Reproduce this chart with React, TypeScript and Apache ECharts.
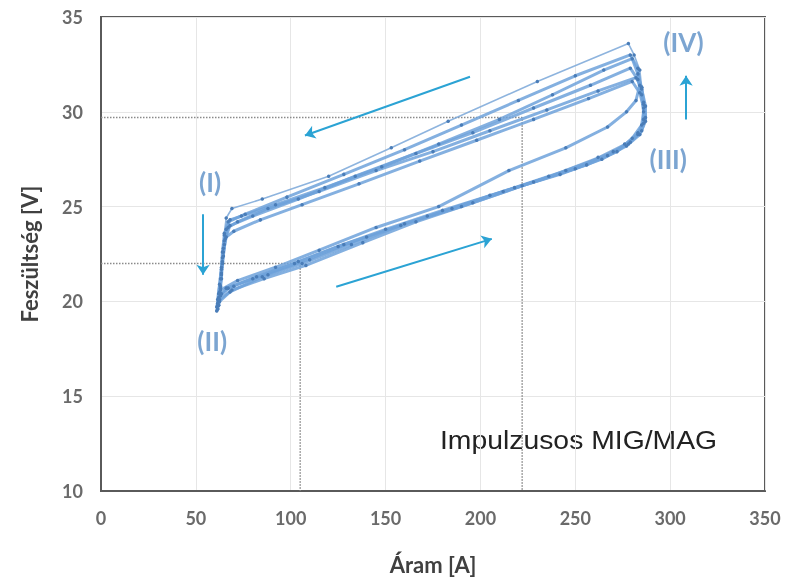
import React, { useEffect, useRef } from "react";
import * as echarts from "echarts";

// Arc current [A] / voltage [V] samples, several pulse cycles
const cycle1: number[][] = [[62.0,19.8],[63.5,20.4],[70,20.8],[88,21.4],[110,22.2],[140,23.4],[172,24.5],[205,25.6],[236,26.6],[262,27.6],[276,28.3],[283,28.9],[286,29.6],[286,30.4],[285,31.3],[284,32.2],[281,33.0],[278,33.6],[230,31.6],[183,29.5],[153,28.1],[120,26.6],[85,25.4],[69,24.9],[66,24.4],[65,23.6],[64.5,22.8],[64,22.0],[63.5,21.2],[63,20.4],[62,19.8]];
const cycle2: number[][] = [[61.5,19.6],[62.5,20.0],[68,20.5],[85,21.3],[106,22.0],[132,23.0],[160,24.1],[190,25.0],[222,26.1],[250,27.0],[270,27.9],[279,28.4],[285,29.0],[287,29.7],[286,30.5],[285,31.3],[282,31.8],[262,31.1],[235,30.1],[205,29.0],[175,27.9],[145,26.9],[115,25.8],[88,24.9],[72,24.2],[67,23.9],[65,23.2],[64,22.3],[63.5,21.5],[63,20.7],[62,20.0],[61.5,19.6]];
const cycle3: number[][] = [[61,19.7],[62,20.2],[66,20.7],[80,21.2],[104,22.1],[128,23.0],[158,24.0],[185,24.9],[218,26.0],[245,26.9],[267,27.7],[278,28.3],[283,28.8],[286,29.4],[286,30.2],[284,31.0],[280,31.6],[257,30.7],[228,29.6],[198,28.5],[168,27.4],[136,26.2],[106,25.1],[84,24.3],[70,23.7],[66,23.4],[64.5,22.6],[63.5,21.8],[62.5,20.9],[61.5,20.1]];
const cycle4: number[][] = [[62,20.0],[63,20.6],[72,21.1],[92,21.8],[115,22.7],[145,23.9],[178,25.0],[215,26.9],[245,28.1],[267,29.2],[277,30.0],[282,30.6],[284,31.4],[283,32.3],[279,33.0],[250,31.9],[220,30.6],[190,29.3],[160,28.0],[128,26.7],[98,25.5],[76,24.6],[67,24.2],[65,23.5],[64,22.6],[63.5,21.7],[63,20.8]];
const cycle5: number[][] = [[61,19.5],[62.5,20.1],[69,20.6],[86,21.2],[108,21.9],[138,23.1],[166,24.2],[196,25.2],[228,26.3],[256,27.2],[272,27.9],[280,28.6],[285,29.3],[286,30.0],[285,30.9],[283,31.7],[279,32.3],[258,31.4],[228,30.2],[196,28.9],[166,27.8],[134,26.6],[104,25.4],[80,24.5],[68,24.0],[65.5,23.3],[64.5,22.4],[63.5,21.4],[62.5,20.5],[61.5,19.9]];
const cycle6: number[][] = [[61.5,19.8],[63,20.3],[67,20.7],[82,21.3],[102,22.0],[125,22.9],[150,23.8],[180,24.8],[212,25.8],[242,26.7],[264,27.5],[277,28.2],[284,28.8],[287,29.5],[287,30.3],[285,31.2],[283,32.0],[280,32.8],[265,32.2],[238,30.9],[210,29.6],[178,28.3],[148,27.1],[118,26.0],[92,25.1],[74,24.5],[68,24.3],[66,23.8],[65,23.0],[64,22.1],[63,21.2],[62,20.4]];
const cycles = [cycle1, cycle2, cycle3, cycle4, cycle5, cycle6];

// Dotted reference lines
const refHigh: number[][] = [[0,29.7],[222,29.7],[222,10]];
const refLow: number[][] = [[0,22],[105,22],[105,10]];

// Direction arrows [from, to]
const arrows: number[][][] = [
  [[194.5,31.85],[107.5,28.75]],
  [[124,20.77],[206,23.3]],
  [[53.8,24.6],[53.8,21.4]],
  [[308.4,29.6],[308.4,31.9]],
];

// Phase labels
const phaseLabels: { name: string; value: number[] }[] = [
  { name: "(I)", value: [57.5, 26.3] },
  { name: "(II)", value: [58.6, 17.9] },
  { name: "(III)", value: [299, 27.5] },
  { name: "(IV)", value: [307, 33.7] },
];

const xTicks = { min: 0, max: 350, interval: 50 };
const yTicks = { min: 10, max: 35, interval: 5 };

export default function App() {
  const ref = useRef<HTMLDivElement>(null);
  useEffect(() => {
    if (!ref.current) return;
    const chart = echarts.init(ref.current, undefined, { renderer: "svg" });
    const font = "Lato, 'Open Sans', sans-serif";
    const series: any[] = [];
    cycles.forEach((c, i) => {
      series.push({
        type: "line",
        data: c,
        showSymbol: true,
        symbol: "circle",
        symbolSize: 3.5,
        itemStyle: { color: "#4a7db8" },
        lineStyle: { color: i === 0 ? "#7aa7d8" : "#6ea2da", width: i === 0 ? 1.6 : 3, opacity: 0.85 },
        z: 3,
      });
    });
    series.push({
      type: "line",
      data: refHigh,
      showSymbol: false,
      lineStyle: { color: "#8a8a8a", width: 1.5, type: "dotted" },
      z: 2,
    });
    series.push({
      type: "line",
      data: refLow,
      showSymbol: false,
      lineStyle: { color: "#8a8a8a", width: 1.5, type: "dotted" },
      z: 2,
    });
    series.push({
      type: "lines",
      coordinateSystem: "cartesian2d",
      data: arrows.map((a) => ({ coords: a })),
      symbol: ["none", "arrow"],
      symbolSize: 10,
      lineStyle: { color: "#2ba3d4", width: 2, opacity: 1 },
      z: 4,
    });
    series.push({
      type: "scatter",
      data: phaseLabels,
      symbolSize: 0,
      label: {
        show: true,
        position: "inside",
        formatter: (p: any) => p.name,
        color: "#5b8ec6",
        fontSize: 26,
        fontWeight: "bold",
        fontFamily: font,
      },
      z: 5,
    });
    chart.setOption({
      animation: false,
      grid: {
        left: 101,
        right: 21,
        top: 17,
        bottom: 87,
        show: true,
        borderColor: "#5a5a5a",
        borderWidth: 2,
      },
      xAxis: {
        type: "value",
        ...xTicks,
        name: "Áram [A]",
        nameLocation: "middle",
        nameGap: 62,
        nameTextStyle: { fontSize: 22, fontWeight: "bold", color: "#404040", fontFamily: font },
        axisLine: { show: true, lineStyle: { color: "#5a5a5a", width: 2 } },
        axisTick: { show: false },
        axisLabel: { fontSize: 18, fontWeight: "bold", color: "#6a6a6a", margin: 18, fontFamily: font },
        splitLine: { show: true, lineStyle: { color: "#e6e6e6", width: 1 } },
      },
      yAxis: {
        type: "value",
        ...yTicks,
        name: "Feszültség [V]",
        nameLocation: "middle",
        nameGap: 61,
        nameTextStyle: { fontSize: 22, fontWeight: "bold", color: "#404040", fontFamily: font },
        axisLine: { show: true, lineStyle: { color: "#5a5a5a", width: 2 } },
        axisTick: { show: false },
        axisLabel: { fontSize: 18, fontWeight: "bold", color: "#6a6a6a", margin: 18, fontFamily: font },
        splitLine: { show: true, lineStyle: { color: "#e6e6e6", width: 1 } },
      },
      graphic: [
        {
          type: "text",
          left: 440,
          top: 427,
          scaleX: 1.09,
          style: {
            text: "Impulzusos MIG/MAG",
            fontSize: 26,
            fill: "#222222",
            fontFamily: "'Liberation Sans', Arial, sans-serif",
          },
        },
      ],
      series,
    });
    return () => chart.dispose();
  }, []);
  return (
    <div
      ref={ref}
      style={{ position: "fixed", left: 0, top: 0, width: 786, height: 580 }}
    />
  );
}
